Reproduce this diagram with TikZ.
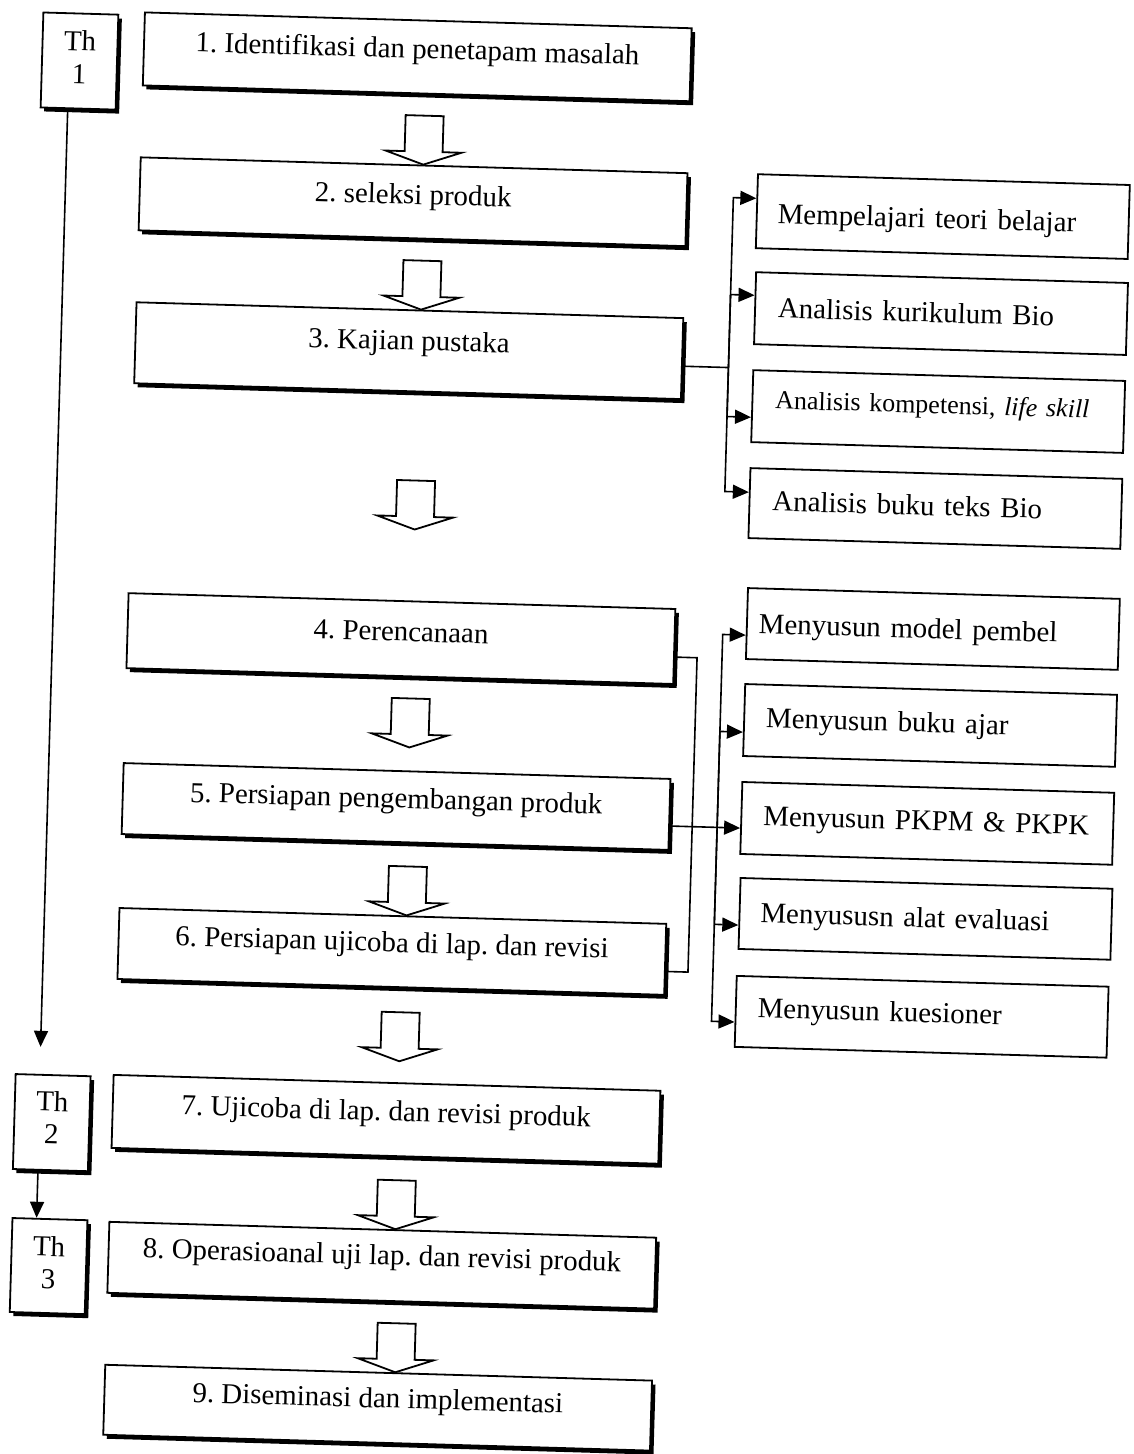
\documentclass[tikz,border=0pt]{standalone}
\usepackage{fontspec}
\setmainfont{Liberation Serif}
\usetikzlibrary{arrows.meta,shadows}
\frenchspacing
\newcommand\bigfont{\fontsize{28.9pt}{33pt}\selectfont}
\newcommand\midfont{\fontsize{26pt}{30pt}\selectfont}
\begin{document}
\begin{tikzpicture}[x=1pt,y=-1pt,
  mainbox/.style={draw, line width=1.8pt, fill=white, inner sep=0pt, anchor=north west,
    minimum width=547pt, font=\bigfont,
    drop shadow={shadow xshift=3.5pt, shadow yshift=-4pt, opacity=1, fill=black}},
  thbox/.style={mainbox, minimum width=75pt},
  rbox/.style={draw, line width=1.8pt, fill=white, inner ysep=0pt, anchor=north west,
    align=left, font=\bigfont},
  conn/.style={line width=1.6pt},
  arr/.style={line width=1.6pt, -{Triangle[length=16pt,width=14pt]}},
  hollow/.style={draw, line width=1.8pt, fill=white, line join=miter},
  blockarrow/.pic={\path[hollow] (-19,0) -- (19,0) -- (19,36) -- (38,36) -- (0,49)
    -- (-38,36) -- (-19,36) -- cycle;}
]
\fill[white] (0,0) rectangle (1134,1454);
\useasboundingbox (0,0) rectangle (1134,1454);
\begin{scope}[rotate around={-1.66:(567,727)}, transform shape]
% year boxes
\node[thbox, text height=37pt, text depth=58pt] (th1) at (22,27)
  {\begin{tabular}[t]{@{}c@{}}Th\\1\end{tabular}};
\node[thbox, text height=36pt, text depth=59pt] (th2) at (25,1089)
  {\begin{tabular}[t]{@{}c@{}}Th\\2\end{tabular}};
\node[thbox, text height=37pt, text depth=57pt] (th3) at (26,1233)
  {\begin{tabular}[t]{@{}c@{}}Th\\3\end{tabular}};
% main steps
\node[mainbox, text height=38pt, text depth=35pt] (b1) at (123.5,24) {1. Identifikasi dan penetapam masalah};
\node[mainbox, text height=39pt, text depth=34pt] (b2) at (123.5,169) {2. seleksi produk};
\node[mainbox, text height=40pt, text depth=41pt] (b3) at (123.5,314) {3. Kajian pustaka};
\node[mainbox, text height=40pt, text depth=35pt] (b4) at (124,605) {4. Perencanaan};
\node[mainbox, text height=37pt, text depth=34pt] (b5) at (124,775) {5. Persiapan pengembangan produk};
\node[mainbox, text height=36pt, text depth=35pt] (b6) at (124,920) {6. Persiapan ujicoba di lap. dan revisi};
\node[mainbox, text height=38pt, text depth=35pt] (b7) at (123,1087) {7. Ujicoba di lap. dan revisi produk};
\node[mainbox, text height=35pt, text depth=36pt] (b8) at (123,1234) {8. Operasioanal uji lap. dan revisi produk};
\node[mainbox, text height=35pt, text depth=35pt] (b9) at (123,1377) {9. Diseminasi dan implementasi};
% right boxes, group 1
\node[rbox, inner xsep=21pt, text width=330pt, text height=48.5pt, text depth=25.5pt] (r1) at (741,168) {Mempelajari teori belajar};
\node[rbox, inner xsep=23pt, text width=326pt, text height=45pt, text depth=27pt] (r2) at (742,266) {Analisis kurikulum Bio};
\node[rbox, inner xsep=23pt, text width=326pt, text height=38pt, text depth=34pt, font=\midfont] (r3) at (742,364) {Analisis kompetensi, \textit{life skill}};
\node[rbox, inner xsep=23pt, text width=326pt, text height=42pt, text depth=28pt] (r4) at (742,462) {Analisis buku teks Bio};
% right boxes, group 2
\node[rbox, inner xsep=12pt, text width=348pt, text height=45pt, text depth=26pt] (r5) at (743,582) {Menyusun model pembel};
\node[rbox, inner xsep=22pt, text width=328pt, text height=43pt, text depth=29pt] (r6) at (743,678) {Menyusun buku ajar};
\node[rbox, inner xsep=22pt, text width=328pt, text height=43pt, text depth=29pt] (r7) at (743,776) {Menyusun PKPM \& PKPK};
\node[rbox, inner xsep=21pt, text width=330pt, text height=44pt, text depth=27pt] (r8) at (744,872) {Menyususn alat evaluasi};
\node[rbox, inner xsep=22pt, text width=328pt, text height=41pt, text depth=30pt] (r9) at (743,970) {Menyusun kuesioner};
% block arrows
\pic (a1) at (407,120) {blockarrow};
\pic (a2) at (409,265) {blockarrow};
\pic (a3) at (409,485) {blockarrow};
\pic (a4) at (410,703) {blockarrow};
\pic (a5) at (412,871) {blockarrow};
\pic (a6) at (409,1017) {blockarrow};
\pic (a7) at (410,1185) {blockarrow};
\pic (a8) at (414,1328) {blockarrow};
% year line
\coordinate (t1end) at (50,1062);
\draw[arr] (th1.south -| 50,0) -- (t1end);
\draw[arr] (th2.south -| 51,0) -- (th3.north -| 51,0);
% group 1 connectors
\draw[conn] (b3.east |- 0,363) -- (718,363) coordinate (j1);
\draw[arr] (j1) |- (r1.west |- 0,193);
\draw[arr] (j1) |- (r2.west |- 0,290);
\draw[arr] (j1) |- (r3.west |- 0,412);
\draw[arr] (j1) |- (r4.west |- 0,487);
% group 2 connectors
\draw[conn] (b4.east |- 0,654) -- (695,654) -- (695,968.5) -- (b6.east |- 0,968.5);
\draw[arr] (b5.east |- 0,823) -- (r7.west |- 0,823);
\coordinate (j2) at (720,823);
\draw[arr] (j2) |- (r5.west |- 0,630);
\draw[arr] (j2) |- (r6.west |- 0,727);
\draw[arr] (j2) |- (r8.west |- 0,920);
\draw[arr] (j2) |- (r9.west |- 0,1017);
\end{scope}
\end{tikzpicture}
\end{document}
